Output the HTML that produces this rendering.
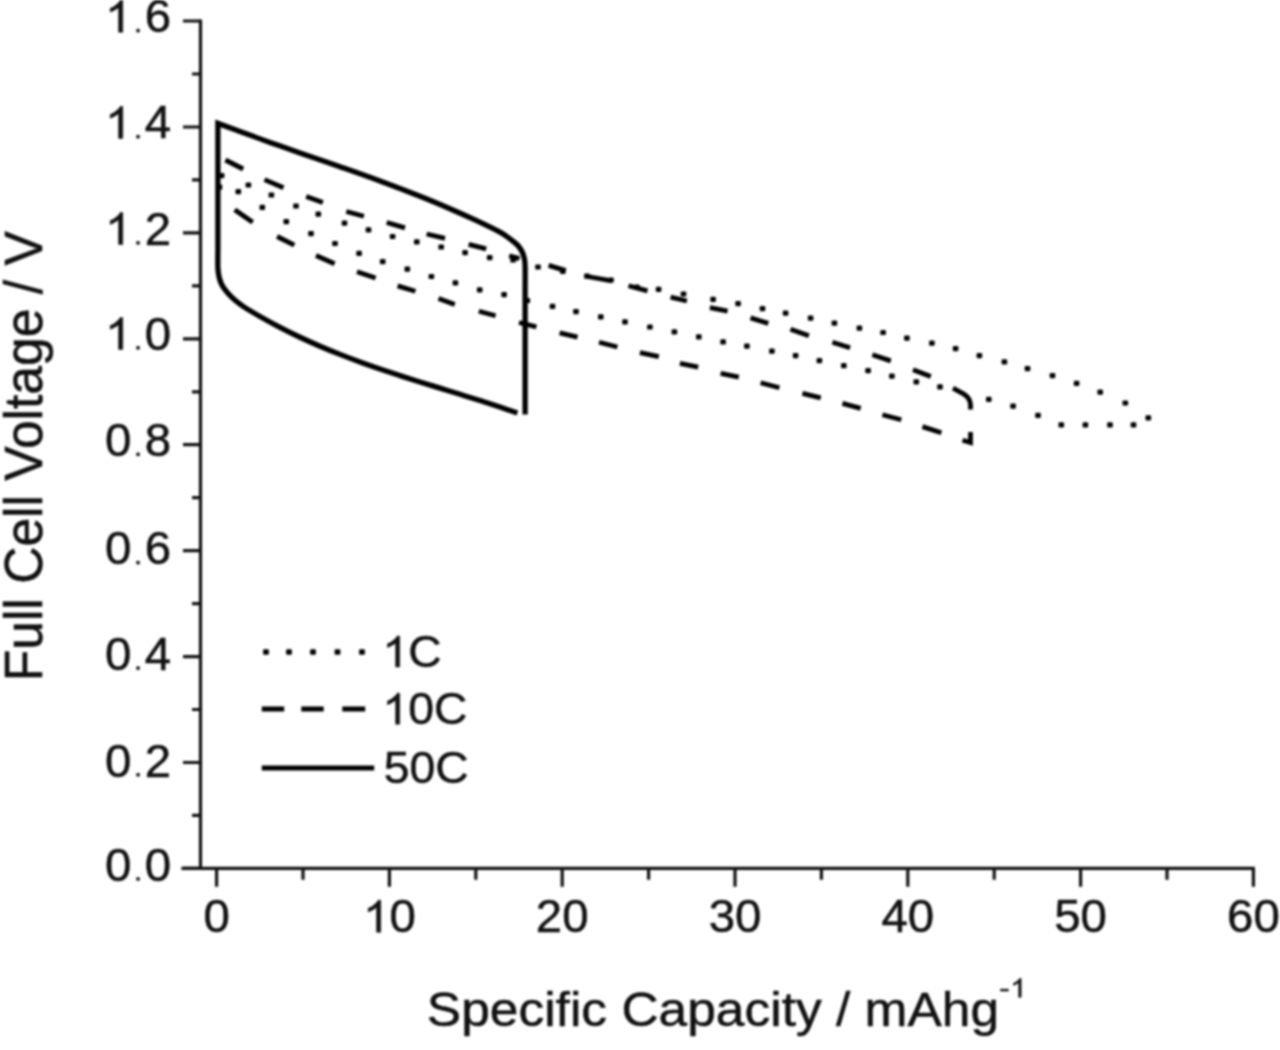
<!DOCTYPE html>
<html><head><meta charset="utf-8"><title>Full Cell Voltage vs Specific Capacity</title>
<style>html,body{margin:0;padding:0;background:#fff;width:1280px;height:1050px;overflow:hidden}svg{display:block}#w{filter:blur(1px)}text{font-family:"Liberation Sans",sans-serif;stroke:#111;stroke-width:0.5px}polygon{stroke:#111;stroke-width:0.5px}</style></head>
<body><div id="w"><svg width="1280" height="1050" viewBox="0 0 1280 1050" font-family="Liberation Sans, sans-serif"><path d="M200.5,21.0 V868.4 M183,868.4 H1253.3" stroke="#111" stroke-width="3.2" fill="none" stroke-linecap="square"/>
<path d="M183,868.4H200.5 M192,815.4H200.5 M183,762.5H200.5 M192,709.5H200.5 M183,656.6H200.5 M192,603.6H200.5 M183,550.6H200.5 M192,497.7H200.5 M183,444.7H200.5 M192,391.8H200.5 M183,338.8H200.5 M192,285.8H200.5 M183,232.9H200.5 M192,179.9H200.5 M183,127.0H200.5 M192,74.0H200.5 M183,21.0H200.5 M216.6,868.4V886.8 M303.0,868.4V879.8 M389.4,868.4V886.8 M475.8,868.4V879.8 M562.2,868.4V886.8 M648.6,868.4V879.8 M735.0,868.4V886.8 M821.4,868.4V879.8 M907.8,868.4V886.8 M994.2,868.4V879.8 M1080.6,868.4V886.8 M1167.0,868.4V879.8 M1253.4,868.4V886.8" stroke="#111" stroke-width="3.2" fill="none"/>
<g fill="#111"><text transform="translate(105.07,880.65) scale(1.02,1)" font-size="46.5">0</text><rect x="136.34" y="877.25" width="3.4" height="3.4"/><text transform="translate(144.63,880.65) scale(1.02,1)" font-size="46.5">0</text><text transform="translate(105.07,776.50) scale(1.02,1)" font-size="46.5">0</text><rect x="136.34" y="773.10" width="3.4" height="3.4"/><text transform="translate(144.63,776.50) scale(1.02,1)" font-size="46.5">2</text><text transform="translate(105.07,669.80) scale(1.02,1)" font-size="46.5">0</text><rect x="136.34" y="666.40" width="3.4" height="3.4"/><text transform="translate(144.63,669.80) scale(1.02,1)" font-size="46.5">4</text><text transform="translate(105.07,564.30) scale(1.02,1)" font-size="46.5">0</text><rect x="136.34" y="560.90" width="3.4" height="3.4"/><text transform="translate(144.63,564.30) scale(1.02,1)" font-size="46.5">6</text><text transform="translate(105.07,456.05) scale(1.02,1)" font-size="46.5">0</text><rect x="136.34" y="452.65" width="3.4" height="3.4"/><text transform="translate(144.63,456.05) scale(1.02,1)" font-size="46.5">8</text><polygon points="122.76,349.50 118.59,349.50 118.59,324.58 117.07,325.91 114.61,327.25 112.23,328.58 110.24,329.30 110.24,325.51 113.70,323.96 116.36,321.78 118.97,319.60 120.06,317.50 122.76,317.50"/><rect x="136.34" y="346.10" width="3.4" height="3.4"/><text transform="translate(144.63,349.50) scale(1.02,1)" font-size="46.5">0</text><polygon points="122.76,244.60 118.59,244.60 118.59,219.68 117.07,221.01 114.61,222.35 112.23,223.68 110.24,224.40 110.24,220.61 113.70,219.06 116.36,216.88 118.97,214.70 120.06,212.60 122.76,212.60"/><rect x="136.34" y="241.20" width="3.4" height="3.4"/><text transform="translate(144.63,244.60) scale(1.02,1)" font-size="46.5">2</text><polygon points="122.76,138.40 118.59,138.40 118.59,113.48 117.07,114.81 114.61,116.15 112.23,117.48 110.24,118.20 110.24,114.41 113.70,112.86 116.36,110.68 118.97,108.50 120.06,106.40 122.76,106.40"/><rect x="136.34" y="135.00" width="3.4" height="3.4"/><text transform="translate(144.63,138.40) scale(1.02,1)" font-size="46.5">4</text><polygon points="122.76,32.30 118.59,32.30 118.59,7.38 117.07,8.71 114.61,10.05 112.23,11.38 110.24,12.10 110.24,8.31 113.70,6.76 116.36,4.58 118.97,2.40 120.06,0.30 122.76,0.30"/><rect x="136.34" y="28.90" width="3.4" height="3.4"/><text transform="translate(144.63,32.30) scale(1.02,1)" font-size="46.5">6</text><text transform="translate(203.41,932.20) scale(1.02,1)" font-size="46.5">0</text><polygon points="380.72,932.20 376.55,932.20 376.55,907.28 375.03,908.61 372.56,909.95 370.19,911.28 368.20,912.00 368.20,908.21 371.66,906.66 374.32,904.48 376.93,902.30 378.02,900.20 380.72,900.20"/><text transform="translate(389.40,932.20) scale(1.02,1)" font-size="46.5">0</text><text transform="translate(535.83,932.20) scale(1.02,1)" font-size="46.5">20</text><text transform="translate(708.63,932.20) scale(1.02,1)" font-size="46.5">30</text><text transform="translate(881.43,932.20) scale(1.02,1)" font-size="46.5">40</text><text transform="translate(1054.23,932.20) scale(1.02,1)" font-size="46.5">50</text><text transform="translate(1227.03,932.20) scale(1.02,1)" font-size="46.5">60</text></g>
<text transform="translate(426.8,1025.6) scale(1.073,1)" font-size="48" fill="#111">Specific Capacity / mAhg</text>
<rect x="1000.2" y="988.9" width="8.5" height="2.4" fill="#111"/>
<g fill="#111"><polygon points="1021.17,997.30 1018.63,997.30 1018.63,982.56 1017.71,983.35 1016.20,984.14 1014.76,984.93 1013.55,985.35 1013.55,983.11 1015.66,982.19 1017.27,980.90 1018.86,979.61 1019.52,978.38 1021.17,978.38"/></g>
<text transform="translate(41.5,681.3) rotate(-90) scale(1,1.036)" font-size="51.6" fill="#111">Full Cell Voltage / V</text>
<path d="M517.40,412.98 C514.50,411.99 506.23,409.12 500.00,407.05 C493.77,404.99 486.67,402.69 480.00,400.57 C473.33,398.44 466.67,396.37 460.00,394.30 C453.33,392.23 446.67,390.20 440.00,388.14 C433.33,386.08 426.67,384.03 420.00,381.94 C413.33,379.85 406.67,377.76 400.00,375.60 C393.33,373.44 386.67,371.25 380.00,368.98 C373.33,366.70 366.67,364.38 360.00,361.95 C353.33,359.52 346.67,357.03 340.00,354.40 C333.33,351.78 326.67,349.07 320.00,346.20 C313.33,343.34 306.67,340.37 300.00,337.23 C293.33,334.09 286.67,330.82 280.00,327.35 C273.33,323.89 265.95,319.83 260.00,316.45 C254.05,313.08 248.45,309.79 244.30,307.10 C240.15,304.40 237.90,302.68 235.10,300.30 C232.30,297.92 229.65,295.25 227.50,292.80 C225.35,290.35 223.58,288.15 222.20,285.60 C220.82,283.05 219.92,280.43 219.20,277.50 C218.48,274.57 218.12,272.58 217.90,268.00 C217.68,263.42 217.90,253.00 217.90,250.00 L217.9,123.4L217.90,123.40 C221.58,124.74 231.32,128.30 240.00,131.47 C248.68,134.63 260.00,138.81 270.00,142.39 C280.00,145.96 288.33,148.84 300.00,152.91 C311.67,156.97 326.67,162.09 340.00,166.78 C353.33,171.46 366.67,176.11 380.00,181.02 C393.33,185.93 408.33,191.64 420.00,196.25 C431.67,200.87 440.83,204.75 450.00,208.70 C459.17,212.65 466.67,216.05 475.00,219.96 C483.33,223.87 494.17,229.01 500.00,232.17 C505.83,235.33 507.00,236.66 510.00,238.90 C513.00,241.14 515.97,243.42 518.00,245.60 C520.03,247.78 521.13,249.82 522.20,252.00 C523.27,254.18 523.92,256.25 524.40,258.70 C524.88,261.15 524.98,261.48 525.10,266.70 C525.22,271.92 525.10,286.12 525.10,290.00 L525.1,414.4" stroke="#000" stroke-width="5.3" fill="none" stroke-linejoin="miter" stroke-miterlimit="10"/>
<path d="M225.4,160.0L243.2,169.0 M264.5,179.6L283.5,187.8 M306.2,196.4L322.9,202.5 M346.3,211.5L363.9,216.2 M386.7,222.5L405.0,227.9 M426.6,234.0L445.0,238.3 M468.6,244.3L486.2,248.8 M509.2,255.7L519.4,258.6 M548.6,265.4L565.7,270.6 M584.6,276.0L611.9,280.8 M628.5,285.8L647.5,290.9 M670.6,297.2L686.9,301.0 M709.9,307.7L727.6,311.2 M750.5,317.9L768.3,323.4 M790.5,329.2L808.9,335.8 M832.4,342.3L850.1,347.7 M872.4,354.8L890.8,360.9 M913.0,369.8L930.8,376.5 M234.7,209.8L252.7,222.2 M277.1,236.5L294.3,245.2 M316.0,255.5L334.6,263.8 M357.0,271.8L375.6,278.1 M397.6,285.9L415.4,291.3 M438.5,298.6L454.8,304.5 M478.8,311.3L495.6,315.7 M519.0,322.5L536.4,326.9 M559.6,332.9L577.5,337.2 M599.0,342.2L617.4,347.0 M639.9,352.7L658.8,356.7 M679.9,363.4L698.2,367.2 M720.6,373.4L738.8,377.2 M760.6,382.8L779.4,387.8 M802.4,393.4L820.7,397.8 M842.4,403.4L860.7,408.4 M882.4,414.7L901.3,419.7 M922.4,426.6L941.4,432.7 M953,388.2 L963.5,393.8 Q970,397.5 970.5,404.5 L970.5,409.5 M970.5,432 L970.5,442.5 L962.5,440.2" stroke="#000" stroke-width="4.8" fill="none" stroke-linecap="butt"/>
<g fill="#000"><rect x="218.8" y="173.1" width="5.6" height="5.2" rx="1.2"/><rect x="245.6" y="182.4" width="5.6" height="5.2" rx="1.2"/><rect x="268.6" y="192.4" width="5.6" height="5.2" rx="1.2"/><rect x="293.2" y="203.4" width="5.6" height="5.2" rx="1.2"/><rect x="315.5" y="211.6" width="5.6" height="5.2" rx="1.2"/><rect x="341.7" y="220.5" width="5.6" height="5.2" rx="1.2"/><rect x="365.7" y="227.2" width="5.6" height="5.2" rx="1.2"/><rect x="389.8" y="233.9" width="5.6" height="5.2" rx="1.2"/><rect x="414.0" y="239.2" width="5.6" height="5.2" rx="1.2"/><rect x="438.4" y="244.4" width="5.6" height="5.2" rx="1.2"/><rect x="462.3" y="250.0" width="5.6" height="5.2" rx="1.2"/><rect x="486.9" y="255.1" width="5.6" height="5.2" rx="1.2"/><rect x="510.3" y="257.4" width="5.6" height="5.2" rx="1.2"/><rect x="535.2" y="264.4" width="5.6" height="5.2" rx="1.2"/><rect x="560.0" y="268.7" width="5.6" height="5.2" rx="1.2"/><rect x="584.2" y="273.4" width="5.6" height="5.2" rx="1.2"/><rect x="608.2" y="277.4" width="5.6" height="5.2" rx="1.2"/><rect x="634.2" y="284.6" width="5.6" height="5.2" rx="1.2"/><rect x="655.8" y="286.8" width="5.6" height="5.2" rx="1.2"/><rect x="680.7" y="291.4" width="5.6" height="5.2" rx="1.2"/><rect x="710.3" y="296.8" width="5.6" height="5.2" rx="1.2"/><rect x="735.3" y="301.1" width="5.6" height="5.2" rx="1.2"/><rect x="759.7" y="306.1" width="5.6" height="5.2" rx="1.2"/><rect x="782.8" y="310.5" width="5.6" height="5.2" rx="1.2"/><rect x="807.8" y="315.5" width="5.6" height="5.2" rx="1.2"/><rect x="831.6" y="320.5" width="5.6" height="5.2" rx="1.2"/><rect x="856.6" y="325.5" width="5.6" height="5.2" rx="1.2"/><rect x="880.3" y="329.9" width="5.6" height="5.2" rx="1.2"/><rect x="904.1" y="335.5" width="5.6" height="5.2" rx="1.2"/><rect x="929.1" y="340.5" width="5.6" height="5.2" rx="1.2"/><rect x="952.8" y="346.1" width="5.6" height="5.2" rx="1.2"/><rect x="976.6" y="353.0" width="5.6" height="5.2" rx="1.2"/><rect x="1001.6" y="359.3" width="5.6" height="5.2" rx="1.2"/><rect x="1024.7" y="366.1" width="5.6" height="5.2" rx="1.2"/><rect x="1049.7" y="373.0" width="5.6" height="5.2" rx="1.2"/><rect x="1073.8" y="380.8" width="5.6" height="5.2" rx="1.2"/><rect x="1097.4" y="389.5" width="5.6" height="5.2" rx="1.2"/><rect x="1122.5" y="400.4" width="5.6" height="5.2" rx="1.2"/><rect x="1145.5" y="415.2" width="5.6" height="5.2" rx="1.2"/><rect x="216.7" y="184.5" width="5.6" height="5.2" rx="1.2"/><rect x="235.5" y="189.1" width="5.6" height="5.2" rx="1.2"/><rect x="259.5" y="204.7" width="5.6" height="5.2" rx="1.2"/><rect x="283.5" y="219.1" width="5.6" height="5.2" rx="1.2"/><rect x="308.2" y="231.1" width="5.6" height="5.2" rx="1.2"/><rect x="332.2" y="240.9" width="5.6" height="5.2" rx="1.2"/><rect x="356.3" y="250.7" width="5.6" height="5.2" rx="1.2"/><rect x="379.9" y="259.0" width="5.6" height="5.2" rx="1.2"/><rect x="404.5" y="266.6" width="5.6" height="5.2" rx="1.2"/><rect x="428.6" y="273.9" width="5.6" height="5.2" rx="1.2"/><rect x="452.6" y="280.3" width="5.6" height="5.2" rx="1.2"/><rect x="476.9" y="287.2" width="5.6" height="5.2" rx="1.2"/><rect x="501.3" y="292.0" width="5.6" height="5.2" rx="1.2"/><rect x="524.5" y="297.9" width="5.6" height="5.2" rx="1.2"/><rect x="549.7" y="303.7" width="5.6" height="5.2" rx="1.2"/><rect x="573.2" y="309.0" width="5.6" height="5.2" rx="1.2"/><rect x="598.0" y="314.3" width="5.6" height="5.2" rx="1.2"/><rect x="622.2" y="319.2" width="5.6" height="5.2" rx="1.2"/><rect x="647.1" y="324.4" width="5.6" height="5.2" rx="1.2"/><rect x="671.6" y="329.3" width="5.6" height="5.2" rx="1.2"/><rect x="696.0" y="334.3" width="5.6" height="5.2" rx="1.2"/><rect x="720.3" y="339.3" width="5.6" height="5.2" rx="1.2"/><rect x="744.1" y="343.6" width="5.6" height="5.2" rx="1.2"/><rect x="769.1" y="348.6" width="5.6" height="5.2" rx="1.2"/><rect x="792.8" y="353.0" width="5.6" height="5.2" rx="1.2"/><rect x="816.6" y="358.0" width="5.6" height="5.2" rx="1.2"/><rect x="841.0" y="363.0" width="5.6" height="5.2" rx="1.2"/><rect x="865.3" y="368.0" width="5.6" height="5.2" rx="1.2"/><rect x="889.1" y="373.6" width="5.6" height="5.2" rx="1.2"/><rect x="913.5" y="379.3" width="5.6" height="5.2" rx="1.2"/><rect x="937.2" y="384.3" width="5.6" height="5.2" rx="1.2"/><rect x="986.0" y="396.8" width="5.6" height="5.2" rx="1.2"/><rect x="1010.3" y="403.6" width="5.6" height="5.2" rx="1.2"/><rect x="1035.2" y="412.7" width="5.6" height="5.2" rx="1.2"/><rect x="1058.5" y="422.3" width="5.6" height="5.2" rx="1.2"/><rect x="1082.6" y="422.3" width="5.6" height="5.2" rx="1.2"/><rect x="1107.2" y="422.3" width="5.6" height="5.2" rx="1.2"/><rect x="1130.7" y="422.3" width="5.6" height="5.2" rx="1.2"/></g>
<g fill="#000"><rect x="263.1" y="649.3" width="5.8" height="5.4" rx="1.2"/><rect x="286.1" y="649.3" width="5.8" height="5.4" rx="1.2"/><rect x="310.1" y="649.3" width="5.8" height="5.4" rx="1.2"/><rect x="334.6" y="649.3" width="5.8" height="5.4" rx="1.2"/><rect x="359.1" y="649.3" width="5.8" height="5.4" rx="1.2"/></g>
<path d="M261.8,709H284.2 M301.3,709H323.7 M342.3,709H365.2 M261.8,768H374.2" stroke="#000" stroke-width="5.0" fill="none"/>
<g fill="#111"><polygon points="399.69,667.00 395.61,667.00 395.61,642.88 394.13,644.18 391.72,645.47 389.40,646.76 387.45,647.45 387.45,643.79 390.84,642.28 393.43,640.17 395.98,638.06 397.05,636.04 399.69,636.04"/><text transform="translate(408.17,667.00) scale(1.03,1)" font-size="45">C</text><polygon points="399.69,724.20 395.61,724.20 395.61,700.08 394.13,701.38 391.72,702.67 389.40,703.96 387.45,704.65 387.45,700.99 390.84,699.48 393.43,697.37 395.98,695.26 397.05,693.24 399.69,693.24"/><text transform="translate(408.17,724.20) scale(1.03,1)" font-size="45">0C</text><text transform="translate(383.80,783.20) scale(1.03,1)" font-size="45">50C</text></g></svg></div></body></html>
